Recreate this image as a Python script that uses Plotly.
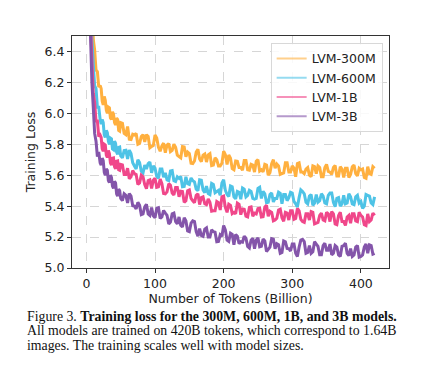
import plotly.graph_objects as go

tokens_early = [4, 6, 8, 10, 12, 14, 16, 18, 20, 21.5, 23, 24.5, 26, 27.5, 29, 30.5, 32, 33.5,
                35, 36.5, 38, 39.5, 41, 42.5, 44, 45.5, 47, 48.5]
tokens_late = [50 + 2.5 * i for i in range(149)]
tokens = tokens_early + tokens_late

loss_300m = [7.5, 7.0, 6.77, 6.48, 6.41, 6.28, 6.27, 6.17, 6.18, 6.16, 6.08, 6.055, 6.11, 6.085, 6.02, 6.00,
             6.04, 6.035, 5.97, 5.96, 6.01, 5.995, 5.94, 5.925, 5.97, 5.96, 5.89, 5.885,
             5.94, 5.935, 5.87, 5.862, 5.915, 5.832, 5.83, 5.865, 5.86, 5.87, 5.80, 5.805, 5.85, 5.862, 5.815,
             5.862, 5.85, 5.777, 5.785, 5.792, 5.86, 5.84, 5.78, 5.755, 5.79, 5.807, 5.745, 5.795, 5.805, 5.752,
             5.76, 5.80, 5.78, 5.73, 5.72, 5.712, 5.785, 5.782, 5.72, 5.75, 5.74, 5.677, 5.675, 5.692, 5.75,
             5.767, 5.705, 5.687, 5.73, 5.737, 5.685, 5.732, 5.74, 5.662, 5.665, 5.712, 5.70, 5.66, 5.66, 5.677,
             5.755, 5.732, 5.67, 5.73, 5.71, 5.642, 5.635, 5.692, 5.69, 5.65, 5.65, 5.632, 5.695, 5.695, 5.635,
             5.632, 5.67, 5.665, 5.62, 5.69, 5.70, 5.627, 5.635, 5.622, 5.67, 5.665, 5.60, 5.617, 5.675, 5.70,
             5.645, 5.672, 5.66, 5.605, 5.61, 5.615, 5.68, 5.68, 5.62, 5.62, 5.66, 5.645, 5.59, 5.675, 5.68, 5.62,
             5.62, 5.61, 5.64, 5.65, 5.60, 5.59, 5.66, 5.655, 5.61, 5.66, 5.65, 5.59, 5.59, 5.65, 5.67, 5.625,
             5.62, 5.605, 5.65, 5.662, 5.595, 5.595, 5.655, 5.64, 5.585, 5.645, 5.645, 5.585, 5.605, 5.655,
             5.665, 5.61, 5.595, 5.645, 5.635, 5.64, 5.585, 5.58, 5.655, 5.61, 5.605, 5.655, 5.645]

loss_600m = [7.2, 6.8, 6.48, 6.32, 6.18, 6.16, 6.04, 6.04, 5.96, 5.93, 5.96, 5.94, 5.86, 5.845, 5.89, 5.875,
             5.82, 5.80, 5.84, 5.835, 5.77, 5.765, 5.82, 5.805, 5.75, 5.735, 5.78, 5.782,
             5.725, 5.712, 5.76, 5.762, 5.705, 5.762, 5.74, 5.68, 5.66, 5.64, 5.70, 5.682, 5.625, 5.615, 5.665,
             5.64, 5.675, 5.685, 5.615, 5.66, 5.645, 5.592, 5.58, 5.64, 5.64, 5.587, 5.615, 5.57, 5.565, 5.627,
             5.63, 5.565, 5.56, 5.59, 5.58, 5.592, 5.525, 5.527, 5.59, 5.545, 5.54, 5.582, 5.565, 5.557, 5.51,
             5.50, 5.57, 5.567, 5.505, 5.487, 5.53, 5.482, 5.475, 5.547, 5.54, 5.487, 5.495, 5.502, 5.47, 5.55,
             5.57, 5.502, 5.475, 5.462, 5.53, 5.525, 5.46, 5.447, 5.495, 5.49, 5.445, 5.517, 5.51, 5.46, 5.47,
             5.502, 5.495, 5.45, 5.445, 5.45, 5.515, 5.522, 5.45, 5.495, 5.48, 5.422, 5.425, 5.475, 5.485, 5.427,
             5.45, 5.45, 5.49, 5.482, 5.415, 5.475, 5.475, 5.435, 5.455, 5.49, 5.485, 5.43, 5.415, 5.395, 5.455,
             5.505, 5.495, 5.48, 5.425, 5.415, 5.465, 5.475, 5.405, 5.42, 5.475, 5.425, 5.435, 5.48, 5.465, 5.42,
             5.415, 5.47, 5.485, 5.485, 5.425, 5.397, 5.45, 5.455, 5.40, 5.415, 5.47, 5.415, 5.42, 5.48, 5.46,
             5.415, 5.41, 5.46, 5.47, 5.42, 5.43, 5.385, 5.40, 5.475, 5.47, 5.465, 5.42, 5.41, 5.46]

loss_1b = [7.0, 6.6, 6.34, 6.13, 6.07, 5.95, 5.95, 5.85, 5.86, 5.845, 5.77, 5.755, 5.80, 5.795, 5.73, 5.715,
           5.76, 5.74, 5.68, 5.665, 5.71, 5.712, 5.655, 5.642, 5.69, 5.692, 5.635, 5.632,
           5.67, 5.667, 5.605, 5.605, 5.645, 5.577, 5.59, 5.63, 5.61, 5.605, 5.54, 5.55, 5.60, 5.59, 5.54,
           5.512, 5.565, 5.57, 5.515, 5.567, 5.58, 5.522, 5.525, 5.575, 5.545, 5.482, 5.48, 5.492, 5.545, 5.535,
           5.485, 5.472, 5.52, 5.52, 5.46, 5.497, 5.495, 5.425, 5.435, 5.50, 5.505, 5.45, 5.435, 5.422, 5.47,
           5.48, 5.41, 5.455, 5.46, 5.415, 5.41, 5.447, 5.425, 5.367, 5.37, 5.37, 5.43, 5.422, 5.375, 5.46,
           5.465, 5.392, 5.36, 5.412, 5.405, 5.352, 5.36, 5.35, 5.42, 5.412, 5.345, 5.382, 5.38, 5.335, 5.33,
           5.392, 5.395, 5.335, 5.355, 5.35, 5.385, 5.387, 5.33, 5.332, 5.395, 5.405, 5.335, 5.367, 5.36,
           5.305, 5.31, 5.322, 5.375, 5.38, 5.325, 5.302, 5.36, 5.355, 5.31, 5.37, 5.37, 5.315, 5.32, 5.385,
           5.37, 5.315, 5.30, 5.295, 5.35, 5.35, 5.31, 5.365, 5.36, 5.285, 5.29, 5.295, 5.34, 5.355, 5.31,
           5.305, 5.36, 5.35, 5.30, 5.365, 5.35, 5.285, 5.28, 5.34, 5.36, 5.30, 5.30, 5.275, 5.33, 5.34, 5.29,
           5.35, 5.35, 5.305, 5.30, 5.36, 5.34, 5.33, 5.28, 5.275, 5.35, 5.30, 5.31, 5.355, 5.34]

loss_3b = [6.9, 6.5, 6.20, 6.04, 5.87, 5.82, 5.72, 5.75, 5.68, 5.665, 5.71, 5.695, 5.62, 5.60, 5.64, 5.632,
           5.565, 5.552, 5.60, 5.585, 5.53, 5.515, 5.56, 5.55, 5.48, 5.465, 5.51, 5.50,
           5.45, 5.435, 5.48, 5.47, 5.42, 5.482, 5.465, 5.402, 5.40, 5.382, 5.425, 5.405, 5.345, 5.35, 5.395,
           5.412, 5.35, 5.34, 5.39, 5.337, 5.325, 5.387, 5.39, 5.32, 5.33, 5.372, 5.355, 5.34, 5.285, 5.297,
           5.35, 5.355, 5.30, 5.285, 5.33, 5.277, 5.265, 5.325, 5.305, 5.24, 5.235, 5.29, 5.305, 5.30, 5.235,
           5.205, 5.255, 5.21, 5.205, 5.252, 5.26, 5.20, 5.20, 5.247, 5.235, 5.232, 5.17, 5.172, 5.215, 5.205,
           5.275, 5.247, 5.18, 5.172, 5.225, 5.217, 5.15, 5.217, 5.205, 5.157, 5.17, 5.167, 5.205, 5.192,
           5.14, 5.13, 5.18, 5.192, 5.125, 5.18, 5.195, 5.137, 5.14, 5.187, 5.175, 5.107, 5.12, 5.135, 5.19,
           5.187, 5.125, 5.157, 5.15, 5.095, 5.10, 5.175, 5.17, 5.127, 5.125, 5.11, 5.155, 5.155, 5.095, 5.075,
           5.135, 5.18, 5.185, 5.17, 5.095, 5.10, 5.145, 5.095, 5.105, 5.17, 5.155, 5.14, 5.085, 5.085, 5.145,
           5.16, 5.115, 5.115, 5.155, 5.085, 5.095, 5.145, 5.135, 5.085, 5.075, 5.14, 5.145, 5.16, 5.095,
           5.08, 5.125, 5.075, 5.085, 5.135, 5.145, 5.07, 5.075, 5.085, 5.135, 5.155, 5.095, 5.15, 5.145,
           5.09, 5.095]

series_names = ["LVM-300M", "LVM-600M", "LVM-1B", "LVM-3B"]
series_values = [loss_300m, loss_600m, loss_1b, loss_3b]
series_colors = ["#FFB03F", "#4EC3E6", "#F0478A", "#8455AA"]

for v in series_values:
    assert len(v) == len(tokens), (len(v), len(tokens))

x_ticks = [0, 100, 200, 300, 400]
y_ticks = [5.0, 5.2, 5.4, 5.6, 5.8, 6.0, 6.2, 6.4]

caption_lines = [
    "Figure 3. <b>Training loss for the 300M, 600M, 1B, and 3B models.</b>",
    "All models are trained on 420B tokens, which correspond to 1.64B",
    "images. The training scales well with model sizes.",
]

fig = go.Figure()
for name, vals, col in zip(series_names, series_values, series_colors):
    fig.add_trace(go.Scatter(x=tokens, y=vals, mode="lines", name=name, legendgroup=name,
                             showlegend=False,
                             line=dict(color=col, width=3, simplify=False)))
# legend-only entries with the thin, light line samples of the original legend
for name, col in zip(series_names, series_colors):
    fig.add_trace(go.Scatter(x=[None], y=[None], mode="lines", name=name, legendgroup=name,
                             opacity=0.6, line=dict(color=col, width=2)))

font_main = "DejaVu Sans, sans-serif"
fig.update_layout(
    width=411, height=354,
    margin=dict(l=64, r=30, t=28, b=94),
    paper_bgcolor="white", plot_bgcolor="white",
    font=dict(family=font_main, size=12.5, color="#222"),
    showlegend=True,
    legend=dict(x=0.98, y=0.97, xanchor="right", yanchor="top",
                bgcolor="rgba(255,255,255,0.85)", bordercolor="#d8d8d8", borderwidth=1,
                font=dict(family=font_main, size=12.5, color="#222"),
                tracegroupgap=0),
    xaxis=dict(range=[-21, 441], tickvals=x_ticks, showline=True, mirror=True,
               linecolor="#333", linewidth=1, ticks="outside", ticklen=4, tickcolor="#333",
               showgrid=True, gridcolor="#d6d6d6", gridwidth=0.8, griddash="dash",
               zeroline=False,
               title=dict(text="Number of Tokens (Billion)", standoff=4,
                          font=dict(size=12.5))),
    yaxis=dict(range=[5.0, 6.5], tickvals=y_ticks, tickformat=".1f", showline=True, mirror=True,
               linecolor="#333", linewidth=1, ticks="outside", ticklen=4, tickcolor="#333",
               showgrid=True, gridcolor="#d6d6d6", gridwidth=0.8, griddash="dash",
               zeroline=False,
               title=dict(text="Training Loss", standoff=6, font=dict(size=12.5))),
)

cap_y = [-0.21, -0.27, -0.332]
for txt, yy in zip(caption_lines, cap_y):
    fig.add_annotation(text=txt, xref="paper", yref="paper", x=-0.148, y=yy,
                       xanchor="left", yanchor="middle", showarrow=False,
                       font=dict(family="Liberation Serif, Times New Roman, serif", size=13.8, color="#111"))

fig.write_html("out.html")
